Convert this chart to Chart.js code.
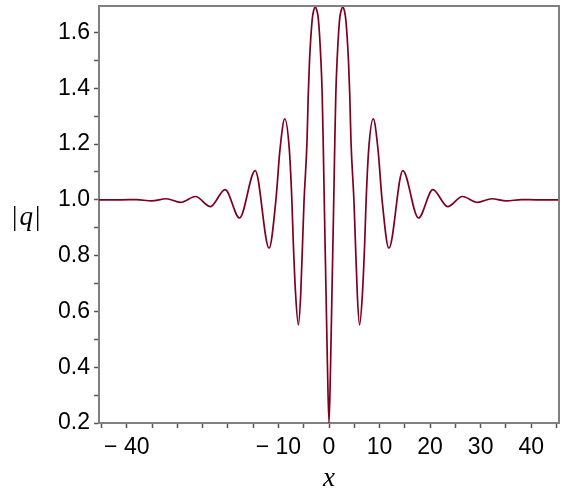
<!DOCTYPE html>
<html>
<head>
<meta charset="utf-8">
<script src="https://cdn.jsdelivr.net/npm/chart.js@4"></script>
<style>
    html, body {
        margin: 0;
        padding: 0;
        background: #ffffff;
    }

    #chartBox {
        position: relative;
        width: 566px;
        height: 498px;
    }
</style>
</head>
<body>
<div id="chartBox">
    <canvas id="qChart"></canvas>
</div>
<script>
"use strict";

// values
const xValues = [
    -45.5, -41, -38.1, -35.1, -32.2, -29.35, -26.4, -23.45, -20.55, -17.7,
    -14.6, -11.85, -10.5, -9.7, -8.75, -7.85, -7.35, -7.05, -6.6, -6.05,
    -5.6, -4.95, -4.35, -4.1, -3.85, -3.32, -3.02, -2.72, -2.42, -2.1,
    -1.6, -1.35, -1.15, -0.9, -0.6, -0.3, 0,
    0.3, 0.6, 0.9, 1.15, 1.35, 1.6, 2.1, 2.42, 2.72, 3.02,
    3.32, 3.85, 4.1, 4.35, 4.95, 5.6, 6.05, 6.6, 7.05, 7.35,
    7.85, 8.75, 9.7, 10.5, 11.85, 14.6, 17.7, 20.55, 23.45, 26.4,
    29.35, 32.2, 35.1, 38.1, 41, 45.5
];

const qValues = [
    1.0, 1.0, 1.001, 0.996, 1.004, 0.991, 1.012, 0.976, 1.037, 0.935,
    1.105, 0.827, 1.0, 1.18, 1.29, 1.18, 1.0, 0.84, 0.66, 0.552,
    0.66, 0.99, 1.21, 1.38, 1.50, 1.647, 1.68, 1.69, 1.68, 1.647,
    1.50, 1.38, 1.21, 0.96, 0.68, 0.40, 0.20,
    0.40, 0.68, 0.96, 1.21, 1.38, 1.50, 1.647, 1.68, 1.69, 1.68,
    1.647, 1.50, 1.38, 1.21, 0.99, 0.66, 0.552, 0.66, 0.84, 1.0,
    1.18, 1.29, 1.18, 1.0, 0.827, 1.105, 0.935, 1.037, 0.976, 1.012,
    0.991, 1.004, 0.996, 1.001, 1.0, 1.0
];

const xTickValues = [
    -45, -40, -35, -30, -25, -20, -15, -10, -5, 0,
    5, 10, 15, 20, 25, 30, 35, 40, 45
];

const xLabelValues = [-40, -10, 0, 10, 20, 30, 40];
const xLabelTexts = ["\u2212 40", "\u2212 10", "0", "10", "20", "30", "40"];

const yTickValues = [
    0.2, 0.3, 0.4, 0.5, 0.6, 0.7, 0.8, 0.9, 1.0,
    1.1, 1.2, 1.3, 1.4, 1.5, 1.6
];

const yLabelValues = [0.2, 0.4, 0.6, 0.8, 1.0, 1.2, 1.4, 1.6];
const yLabelTexts = ["0.2", "0.4", "0.6", "0.8", "1.0", "1.2", "1.4", "1.6"];

const X_MIN = -45.5;
const X_MAX = 45.5;
const Y_MIN = 0.2;
const Y_MAX = 1.695;

const LINE_COLOR = "#7d0022";
const AXIS_COLOR = "#808080";
const TICK_COLOR = "#555555";
const LABEL_FONT = "'Liberation Sans', Arial, sans-serif";
const TITLE_FONT = "'Liberation Serif', 'Times New Roman', serif";

function labelFor(value, values, texts) {

    for (let i = 0; i < values.length; i++) {

        if (Math.abs(values[i] - value) < 1e-6) {

            return texts[i];
        }
    }

    return "";
}

// plot frame (top / right) and the horizontal |q| label
const framePlugin = {

    id: "frameAndYTitle",

    afterDraw(chart) {

        const ctx = chart.ctx;
        const area = chart.chartArea;

        ctx.save();

        ctx.strokeStyle = AXIS_COLOR;
        ctx.lineWidth = 2;

        ctx.beginPath();
        ctx.moveTo(area.left, area.top);
        ctx.lineTo(area.right, area.top);
        ctx.lineTo(area.right, area.bottom);
        ctx.stroke();

        const midY = chart.scales.y.getPixelForValue(1.0);
        const baseY = midY + 25;
        let textX = 12;

        ctx.fillStyle = "#000000";
        ctx.textBaseline = "alphabetic";
        ctx.textAlign = "left";

        ctx.font = "27px " + TITLE_FONT;
        ctx.fillText("|", textX, baseY);
        textX += ctx.measureText("|").width + 2;

        ctx.font = "italic 27px " + TITLE_FONT;
        ctx.fillText("q", textX, baseY);
        textX += ctx.measureText("q").width + 2;

        ctx.font = "27px " + TITLE_FONT;
        ctx.fillText("|", textX, baseY);

        ctx.restore();
    }
};

const ChartController = {

    initialize() {

        const canvas = document.getElementById("qChart");

        if (!canvas || typeof Chart === "undefined") {

            console.error("Chart.js not loaded.");

            return;
        }

        const points = xValues.map((x, i) => ({ x: x, y: qValues[i] }));

        new Chart(canvas, {

            type: "line",

            data: {

                datasets: [
                    {
                        data: points,
                        borderColor: LINE_COLOR,
                        borderWidth: 1.7,
                        pointRadius: 0,
                        fill: false,
                        cubicInterpolationMode: "monotone"
                    }
                ]
            },

            options: {

                responsive: true,
                maintainAspectRatio: false,
                animation: false,

                layout: {
                    padding: { top: 6, right: 7, left: 0, bottom: 0 }
                },

                plugins: {
                    legend: { display: false },
                    tooltip: { enabled: false }
                },

                scales: {

                    x: {
                        type: "linear",
                        min: X_MIN,
                        max: X_MAX,
                        afterBuildTicks(scale) {
                            scale.ticks = xTickValues.map(v => ({ value: v }));
                        },
                        afterFit(scale) {
                            scale.height = 75;
                            scale.paddingLeft = 0;
                            scale.paddingRight = 0;
                        },
                        ticks: {
                            autoSkip: false,
                            maxRotation: 0,
                            padding: 6,
                            color: "#000000",
                            font: { family: LABEL_FONT, size: 23 },
                            callback(value) {
                                return labelFor(value, xLabelValues, xLabelTexts);
                            }
                        },
                        grid: {
                            drawOnChartArea: false,
                            drawTicks: true,
                            tickLength: 5,
                            tickColor: TICK_COLOR,
                            tickWidth: 1.5
                        },
                        border: {
                            color: AXIS_COLOR,
                            width: 2
                        },
                        title: {
                            display: true,
                            text: "x",
                            color: "#000000",
                            font: { family: TITLE_FONT, style: "italic", size: 27 },
                            padding: { top: 0, bottom: 3 }
                        }
                    },

                    y: {
                        type: "linear",
                        min: Y_MIN,
                        max: Y_MAX,
                        afterBuildTicks(scale) {
                            scale.ticks = yTickValues.map(v => ({ value: v }));
                        },
                        afterFit(scale) {
                            scale.width = 99;
                            scale.paddingTop = 0;
                            scale.paddingBottom = 0;
                        },
                        ticks: {
                            autoSkip: false,
                            padding: 4,
                            color: "#000000",
                            font: { family: LABEL_FONT, size: 23 },
                            callback(value) {
                                return labelFor(value, yLabelValues, yLabelTexts);
                            }
                        },
                        grid: {
                            drawOnChartArea: false,
                            drawTicks: true,
                            tickLength: 5,
                            tickColor: TICK_COLOR,
                            tickWidth: 1.5
                        },
                        border: {
                            color: AXIS_COLOR,
                            width: 2
                        }
                    }
                }
            },

            plugins: [framePlugin]
        });
    }
};

document.addEventListener("DOMContentLoaded", () => {

    try {

        ChartController.initialize();

    } catch (error) {

        console.error("Chart initialization failed", error);
    }
});
</script>
</body>
</html>
